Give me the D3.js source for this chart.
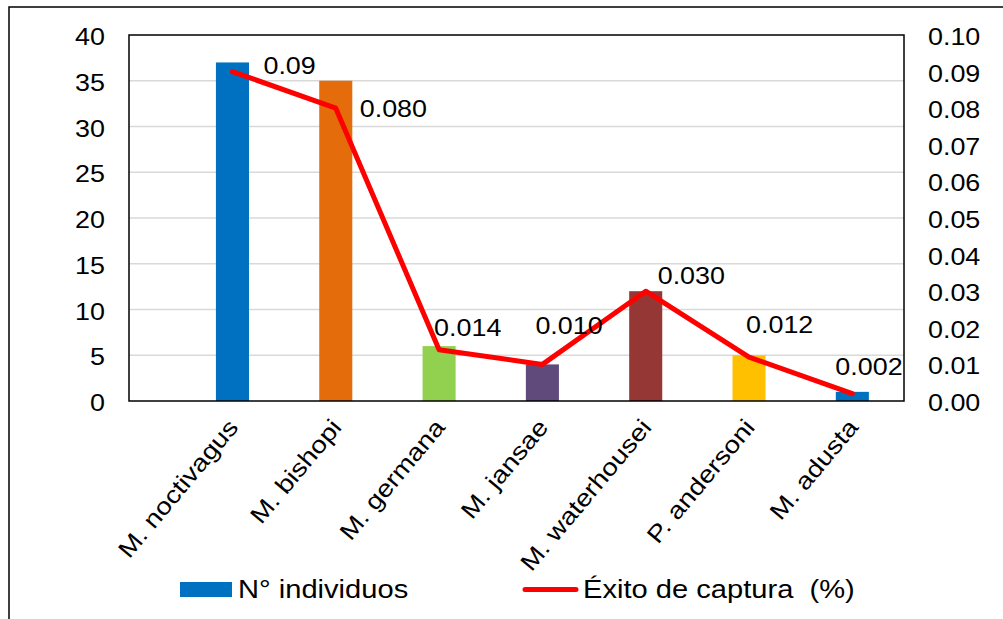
<!DOCTYPE html>
<html>
<head>
<meta charset="utf-8">
<script src="https://cdn.jsdelivr.net/npm/d3@7"></script>
<style>
  html, body { margin: 0; padding: 0; background: #fff; }
  svg text { font-family: "Liberation Sans", Arial, sans-serif; fill: #000; white-space: pre; }
</style>
</head>
<body>
<svg id="chart" width="1003" height="619"></svg>
<script>
// ---- data ----
const categories = ["M. noctivagus", "M. bishopi", "M. germana", "M. jansae", "M. waterhousei", "P. andersoni", "M. adusta"];
const individuos = [37, 35, 6, 4, 12, 5, 1];
const exito = [0.09, 0.080, 0.014, 0.010, 0.030, 0.012, 0.002];
const exitoLabels = ["0.09", "0.080", "0.014", "0.010", "0.030", "0.012", "0.002"];
const leftTicks = [0, 5, 10, 15, 20, 25, 30, 35, 40];
const rightTicks = [0, 0.01, 0.02, 0.03, 0.04, 0.05, 0.06, 0.07, 0.08, 0.09, 0.10];
const seriesNames = ["N° individuos", "Éxito de captura  (%)"];

// ---- styles / layout ----
const barColors = ["#0070C0", "#E46C0A", "#92D050", "#604A7B", "#953735", "#FFC000", "#0070C0"];
const lineColor = "#FF0000";
const plot = { left: 129, top: 35, right: 904, bottom: 401 };
const bandStart = 180.8;
const fontSize = 24;
const TX = 1.12; // horizontal text stretch
// data label offsets (dx, dy) relative to line points, in px
const labelOffsets = [[31, -7], [24, 0], [-5, -23], [-7, -39], [12, -16], [-3, -33], [-17, -28]];

const svg = d3.select("#chart");

// outer frame
svg.append("rect").attr("x", 9).attr("y", 7).attr("width", 1010).attr("height", 640)
  .attr("fill", "none").attr("stroke", "#000").attr("stroke-width", 1.5);

const x = d3.scaleBand().domain(categories).range([bandStart, plot.right])
  .paddingInner(0.68).paddingOuter(0.34);
const yL = d3.scaleLinear().domain([0, 40]).range([plot.bottom, plot.top]);
const yR = d3.scaleLinear().domain([0, 0.10]).range([plot.bottom, plot.top]);

// gridlines
svg.append("g").selectAll("line").data(leftTicks.filter(t => t > 0 && t < 40)).join("line")
  .attr("x1", plot.left).attr("x2", plot.right)
  .attr("y1", d => yL(d)).attr("y2", d => yL(d))
  .attr("stroke", "#D9D9D9").attr("stroke-width", 1.5);

// bars
svg.append("g").selectAll("rect").data(categories).join("rect")
  .attr("x", d => x(d)).attr("width", x.bandwidth())
  .attr("y", (d, i) => yL(individuos[i]))
  .attr("height", (d, i) => yL(0) - yL(individuos[i]))
  .attr("fill", (d, i) => barColors[i]);

// plot frame
svg.append("rect").attr("x", plot.left).attr("y", plot.top)
  .attr("width", plot.right - plot.left).attr("height", plot.bottom - plot.top)
  .attr("fill", "none").attr("stroke", "#000").attr("stroke-width", 1.5);

// line
const line = d3.line().x((d, i) => x(categories[i]) + x.bandwidth() / 2).y(d => yR(d));
svg.append("path").datum(exito).attr("d", line)
  .attr("fill", "none").attr("stroke", lineColor).attr("stroke-width", 5)
  .attr("stroke-linejoin", "round").attr("stroke-linecap", "round");

function stretchedText(g, xPos, yPos, txt, anchor, size) {
  return g.append("text")
    .attr("transform", `translate(${xPos},${yPos}) scale(${TX},1)`)
    .attr("text-anchor", anchor)
    .attr("font-size", size || fontSize)
    .text(txt);
}

// left axis labels
const gl = svg.append("g");
leftTicks.forEach(t => stretchedText(gl, 105, yL(t) + 10, d3.format("d")(t), "end"));

// right axis labels
const gr = svg.append("g");
rightTicks.forEach(t => stretchedText(gr, 928, yR(t) + 10, d3.format(".2f")(t), "start"));

// data labels
const gd = svg.append("g");
exito.forEach((v, i) => {
  const px = x(categories[i]) + x.bandwidth() / 2;
  const py = yR(v);
  stretchedText(gd, px + labelOffsets[i][0], py + labelOffsets[i][1] + 9, exitoLabels[i], "start");
});

// category labels (rotated)
const gx = svg.append("g");
categories.forEach((c, i) => {
  const cx = x(c) + x.bandwidth() / 2;
  gx.append("text")
    .attr("transform", `translate(${cx - 6},${plot.bottom + 16}) rotate(-50) scale(1.16,1)`)
    .attr("text-anchor", "end")
    .attr("font-size", 24)
    .attr("dy", "0.71em")
    .text(c);
});

// legend
const lg = svg.append("g");
lg.append("rect").attr("x", 180).attr("y", 582).attr("width", 52).attr("height", 15).attr("fill", barColors[0]);
stretchedText(lg, 238, 598, seriesNames[0], "start", 26);
lg.append("line").attr("x1", 525).attr("x2", 576).attr("y1", 589.5).attr("y2", 589.5)
  .attr("stroke", lineColor).attr("stroke-width", 5).attr("stroke-linecap", "round");
stretchedText(lg, 583, 598, seriesNames[1], "start", 26);
</script>
</body>
</html>
